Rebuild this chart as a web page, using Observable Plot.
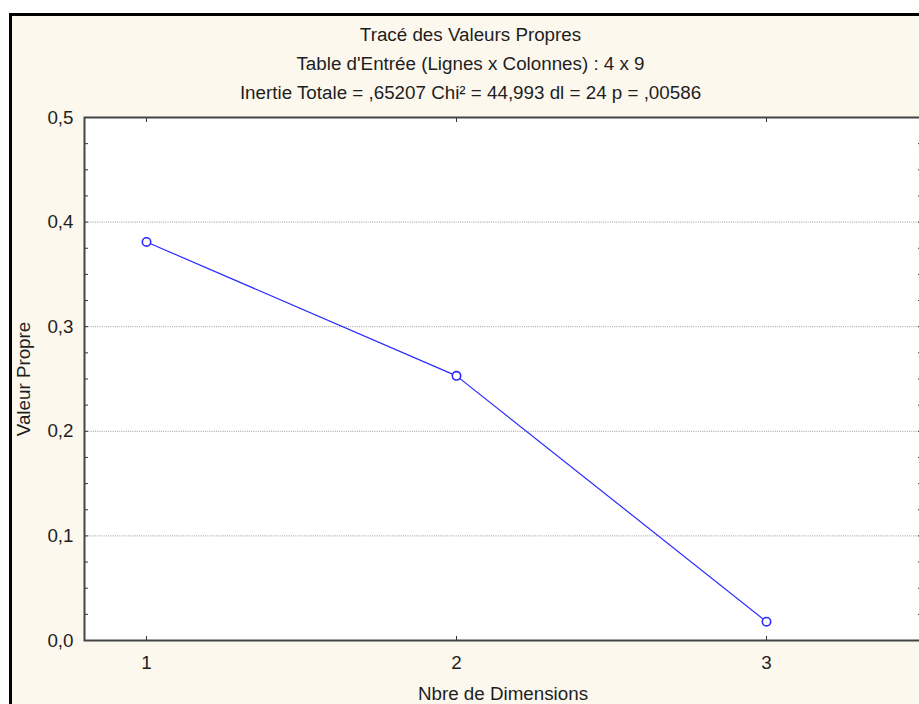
<!DOCTYPE html>
<html><head><meta charset="utf-8">
<script src="https://cdn.jsdelivr.net/npm/d3@7"></script>
<script src="https://cdn.jsdelivr.net/npm/@observablehq/plot@0.6"></script>
<style>
html,body{margin:0;padding:0;background:#fff;}
#wrap{position:relative;width:919px;height:704px;overflow:hidden;}
#panel{position:absolute;left:9px;top:13px;width:1000px;height:800px;border-left:3px solid #000;border-top:3px solid #000;background:#fdf8ee;}
#chart{position:absolute;left:0;top:0;width:925px;}
</style></head><body>
<div id="wrap"><div id="panel"></div><div id="chart"></div></div>
<script>
const dims = [1, 2, 3];
const eigenvalues = [0.381, 0.253, 0.018];
const xTicks = [1, 2, 3];
const yMajorTicks = [0, 0.1, 0.2, 0.3, 0.4, 0.5];
const yMinorTicks = [0.025, 0.05, 0.075, 0.125, 0.15, 0.175, 0.225, 0.25, 0.275, 0.325, 0.35, 0.375, 0.425, 0.45, 0.475];
const yGridLines = [0.1, 0.2, 0.3, 0.4];
const titleLines = [
  "Tracé des Valeurs Propres",
  "Table d'Entrée (Lignes x Colonnes) : 4 x 9",
  "Inertie Totale = ,65207 Chi² = 44,993 dl = 24 p = ,00586"
];
const xLabel = "Nbre de Dimensions";
const yLabel = "Valeur Propre";

const data = dims.map((d, i) => ({dim: d, val: eigenvalues[i]}));
const fmt = d => d.toFixed(1).replace(".", ",");
const blue = "#2a2aff";
const ink = "#1e1e1e";
const fs = 18.8;
const titleDy = [-77, -48, -19];

const chart = Plot.plot({
  width: 925,
  height: 704,
  marginLeft: 84,
  marginRight: 4,
  marginTop: 117,
  marginBottom: 64,
  style: {background: "transparent", fontFamily: "'Liberation Sans', Arial, sans-serif", fontSize: fs + "px", color: ink, overflow: "visible", maxWidth: "none"},
  x: {domain: [0.8, 3.5], label: null},
  y: {domain: [0, 0.5], label: null},
  marks: [
    Plot.frame({fill: "white", stroke: "none"}),
    Plot.ruleY(yGridLines, {stroke: "#9a9a9a", strokeDasharray: "1,1.2", strokeWidth: 1}),
    Plot.line(data, {x: "dim", y: "val", stroke: blue, strokeWidth: 1.2}),
    Plot.dot(data, {x: "dim", y: "val", r: 4.2, stroke: blue, fill: "white", strokeWidth: 1.6}),
    Plot.axisY(yMajorTicks, {anchor: "left", tickSize: -4, fill: "none", label: null, stroke: "#333"}),
    Plot.axisY(yMinorTicks, {anchor: "left", tickSize: -4, fill: "none", label: null, stroke: "#333"}),
    Plot.axisY(yMajorTicks, {anchor: "right", tickSize: -4, fill: "none", label: null, stroke: "#333"}),
    Plot.axisY(yMinorTicks, {anchor: "right", tickSize: -4, fill: "none", label: null, stroke: "#333"}),
    Plot.axisY(yMajorTicks, {anchor: "left", tickSize: 0, tickPadding: 11, tickFormat: fmt, label: null, fontSize: fs, fill: ink}),
    Plot.axisX(xTicks, {anchor: "bottom", tickSize: -4, fill: "none", label: null, stroke: "#333"}),
    Plot.axisX(xTicks, {anchor: "top", tickSize: -4, fill: "none", label: null, stroke: "#333"}),
    Plot.axisX(xTicks, {anchor: "bottom", tickSize: 0, tickPadding: 15, tickFormat: d => String(d), label: null, fontSize: fs, fill: ink}),
    Plot.frame({stroke: "#444", strokeWidth: 2}),
    ...titleLines.map((t, i) => Plot.text([t], {text: d => d, frameAnchor: "top", lineAnchor: "bottom", dx: -32.5, dy: titleDy[i], fontSize: fs, fill: ink})),
    Plot.text([xLabel], {text: d => d, frameAnchor: "bottom", lineAnchor: "bottom", dy: 59, fontSize: fs, fill: ink}),
    Plot.text([yLabel], {text: d => d, frameAnchor: "left", rotate: -90, lineAnchor: "bottom", textAnchor: "middle", dx: -55, fontSize: fs, fill: ink})
  ]
});
document.getElementById("chart").appendChild(chart);
</script>
</body></html>
